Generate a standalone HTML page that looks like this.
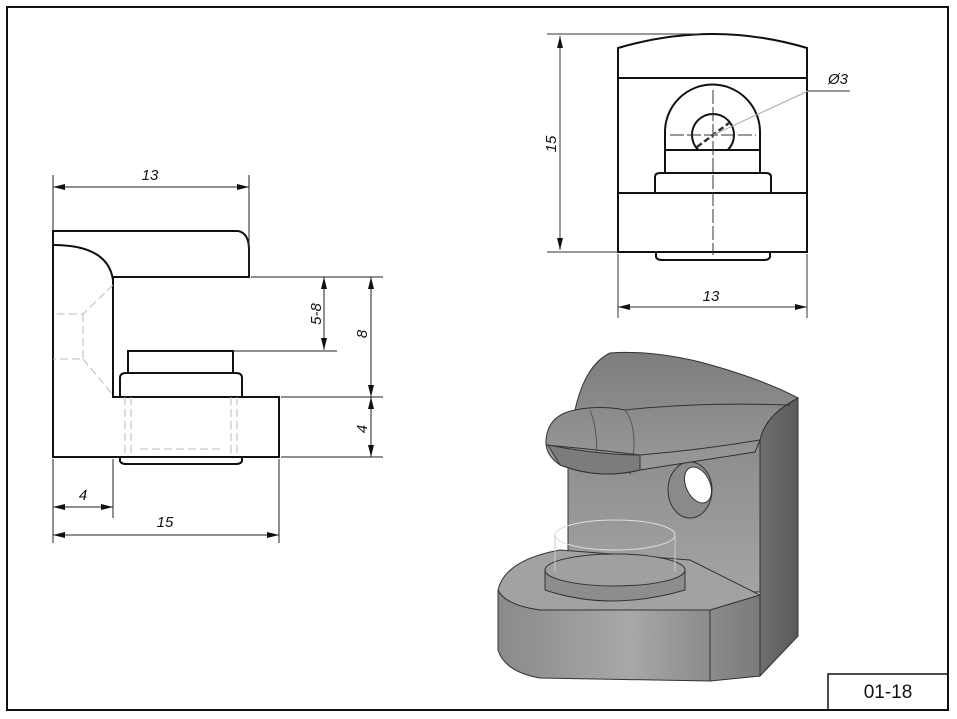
<!DOCTYPE html>
<html><head><meta charset="utf-8"><style>
html,body{margin:0;padding:0;background:#fff;}
svg{display:block;}
text{font-family:"Liberation Sans",sans-serif;font-style:italic;font-size:15px;fill:#111;}
</style></head><body>
<svg width="957" height="719" viewBox="0 0 957 719" xmlns="http://www.w3.org/2000/svg">
<defs>
<marker id="a" viewBox="0 0 12 6" refX="12" refY="3" markerWidth="12" markerHeight="6" orient="auto-start-reverse" markerUnits="userSpaceOnUse"><path d="M0,0 L12,3 L0,6 Z" fill="#111"/></marker>
<linearGradient id="g1" x1="0" x2="1"><stop offset="0" stop-color="#8a8a8a"/><stop offset="0.5" stop-color="#a8a8a8"/><stop offset="1" stop-color="#7a7a7a"/></linearGradient>
<linearGradient id="g2" x1="0" x2="1"><stop offset="0" stop-color="#6e6e6e"/><stop offset="1" stop-color="#5a5a5a"/></linearGradient>
<linearGradient id="g3" x1="0" y1="0" x2="0" y2="1"><stop offset="0" stop-color="#8c8c8c"/><stop offset="1" stop-color="#a4a4a4"/></linearGradient>
<linearGradient id="g4" x1="0" y1="0" x2="0" y2="1"><stop offset="0" stop-color="#7d7d7d"/><stop offset="1" stop-color="#9a9a9a"/></linearGradient>
</defs>
<!-- frame -->
<rect x="7" y="7" width="941" height="703" fill="none" stroke="#111" stroke-width="2"/>
<rect x="828" y="674" width="120" height="36" fill="none" stroke="#111" stroke-width="1.5"/>
<text x="888" y="698" text-anchor="middle" style="font-style:normal;font-size:19px">01-18</text>

<!-- LEFT VIEW -->
<g fill="none" stroke="#111" stroke-width="2">
<path d="M53,457 L53,231 L238,231 Q249,233 249,250 L249,277 L113,277 L113,397 L279,397 L279,457 Z"/>
<path d="M53,245 Q108,245 113,280"/>
<path d="M128,373 L128,351 L233,351 L233,373"/>
<path d="M120,397 L120,378 Q120,373 126,373 L236,373 Q242,373 242,378 L242,397"/>
<path d="M120,457 L120,461 Q121,464 126,464 L236,464 Q241,464 242,461 L242,457"/>
</g>
<g fill="none" stroke="#bbb" stroke-width="1" stroke-dasharray="8,4">
<path d="M113,285 L83,314 L53,314 M83,314 L83,359 L53,359 M83,359 L113,395"/>
<path d="M125,397 V457 M131,397 V457 M231,397 V457 M237,397 V457 M140,449 H220"/>
</g>
<g stroke="#222" stroke-width="1" fill="none">
<path d="M53,175 V231 M249,175 V277"/>
<path d="M53,187 H249" marker-start="url(#a)" marker-end="url(#a)"/>
<path d="M251,277 H383 M233,351 H337 M281,397 H383 M281,457 H383"/>
<path d="M324,277 V350" marker-start="url(#a)" marker-end="url(#a)"/>
<path d="M371,277 V397" marker-start="url(#a)" marker-end="url(#a)"/>
<path d="M371,397 V457" marker-start="url(#a)" marker-end="url(#a)"/>
<path d="M53,459 V543 M113,459 V518 M279,459 V543"/>
<path d="M53,507 H113" marker-start="url(#a)" marker-end="url(#a)"/>
<path d="M53,535 H279" marker-start="url(#a)" marker-end="url(#a)"/>
</g>
<text x="150" y="180" text-anchor="middle">13</text>
<text x="165" y="527" text-anchor="middle">15</text>
<text x="83" y="500" text-anchor="middle">4</text>
<text transform="translate(321,314) rotate(-90)" text-anchor="middle">5-8</text>
<text transform="translate(367,334) rotate(-90)" text-anchor="middle">8</text>
<text transform="translate(367,429) rotate(-90)" text-anchor="middle">4</text>

<!-- FRONT VIEW -->
<g fill="none" stroke="#111" stroke-width="2">
<path d="M618,252 L618,48 Q713,20 807,48 L807,252 Z"/>
<path d="M618,78 H807 M618,193 H807"/>
<path d="M665,150 L665,132 A47.5,47.5 0 0 1 760,132 L760,150 Z"/>
<path d="M665,150 H760 V173 H665 Z"/>
<path d="M655,193 V177 Q655,173 660,173 H766 Q771,173 771,177 V193"/>
<path d="M656,252 V257 Q657,260 662,260 H764 Q769,260 770,257 V252"/>
<path d="M698.3,150 A21,21 0 1 1 727.7,150"/>
</g>
<g stroke="#333" stroke-width="1" fill="none">
<path d="M670,135 H756 M713,90 V255" stroke-dasharray="14,3"/>
<path d="M697,147 L729,123" stroke-width="2.5" stroke-dasharray="6,3"/>
<path d="M713,135 L808,91" stroke="#aaa"/>
<path d="M808,91 H850"/>
<path d="M547,34 H700 M547,252 H618"/>
<path d="M560,36 V250" marker-start="url(#a)" marker-end="url(#a)"/>
<path d="M618,254 V318 M807,254 V318"/>
<path d="M618,307 H807" marker-start="url(#a)" marker-end="url(#a)"/>
</g>
<text x="838" y="84" text-anchor="middle">Ø3</text>
<text x="711" y="301" text-anchor="middle">13</text>
<text transform="translate(556,144) rotate(-90)" text-anchor="middle">15</text>

<!-- 3D VIEW -->
<g stroke="#333" stroke-width="1">
<path d="M568,455 L760,440 L760,592 L568,590 Z" fill="url(#g3)"/>
<path d="M760,440 Q765,415 798,398 L798,636 L760,676 L760,595 Z" fill="url(#g2)"/>
<path d="M498,590 L498,650 Q505,672 540,678 L710,681 L760,676 L760,595 L710,610 L540,610 Q505,605 498,590 Z" fill="url(#g1)"/>
<path d="M710,610 V681" fill="none"/>
<path d="M498,590 Q505,560 560,550 L690,560 L760,595 L710,610 L540,610 Q505,605 498,590 Z" fill="#a2a2a2"/>
<path d="M545,570 V590 Q610,612 685,590 V570 Q615,548 545,570 Z" fill="#8d8d8d"/>
<ellipse cx="615" cy="570" rx="70" ry="16" fill="#a0a0a0"/>
<ellipse cx="615" cy="535" rx="60" ry="15" fill="none" stroke="#ddd"/>
<path d="M555,535 V572 M675,535 V572" fill="none" stroke="#ccc"/>
<ellipse cx="690" cy="490" rx="22" ry="28" fill="#8a8a8a"/>
<ellipse cx="698" cy="485" rx="12" ry="19" fill="#fff" transform="rotate(-25 698 485)"/>
<path d="M610,353 Q650,350 700,362 Q760,378 798,398 Q765,415 760,440 L755,452 L640,470 Q600,480 560,465 Q545,455 546,440 Q548,415 575,410 Q585,365 610,353 Z" fill="url(#g4)"/>
<path d="M575,410 Q600,405 625,410 Q700,402 790,405" fill="none"/>
<path d="M546,445 Q600,450 640,455 Q700,450 760,440" fill="none"/>
<path d="M625,410 Q640,430 630,475 M590,410 Q600,435 595,472" fill="none" stroke="#555"/>
<path d="M560,465 Q600,480 640,470 L640,455 Q600,455 548,445 Z" fill="#7c7c7c"/>
</g>
</svg>
</body></html>
